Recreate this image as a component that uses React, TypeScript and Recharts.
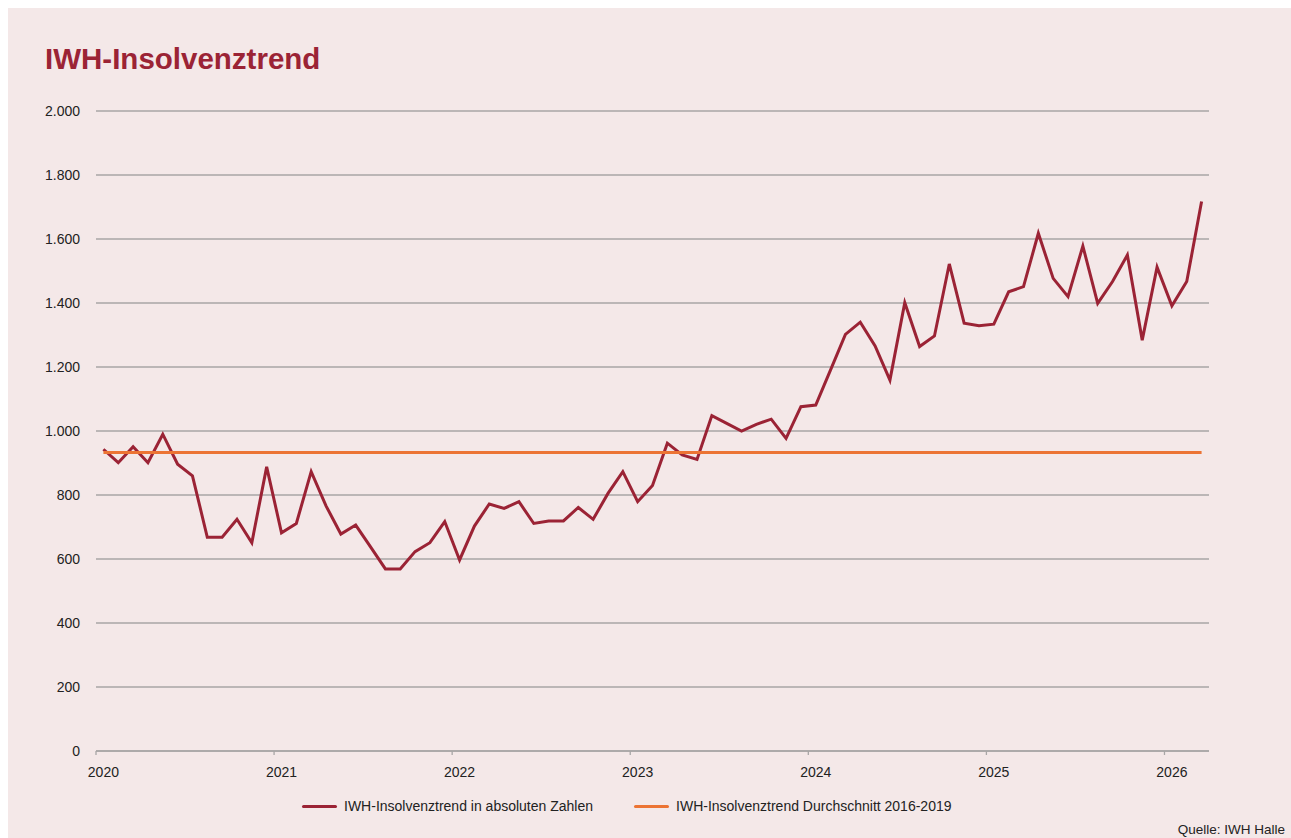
import { LineChart, Line, XAxis, YAxis, CartesianGrid, Legend } from 'recharts';

// monthly values Jan 2020 .. Mar 2026
const insolvenzen = [
  943, 901, 951, 901, 990, 896, 860, 668, 668, 724, 651, 888,
  682, 711, 873, 766, 678, 706, 638, 569, 569, 623, 651, 717,
  597, 703, 772, 758, 779, 711, 719, 719, 761, 724, 805, 873,
  779, 830, 962, 925, 911, 1048, 1024, 1000, 1021, 1037, 977, 1076,
  1081, 1191, 1302, 1340, 1266, 1159, 1401, 1264, 1297, 1522, 1337, 1329,
  1334, 1435, 1451, 1618, 1477, 1420, 1578, 1399, 1467, 1550, 1284, 1512,
  1391, 1467, 1717,
];
const durchschnitt = 933;

const years = ['2020', '2021', '2022', '2023', '2024', '2025', '2026'];
const yTicks = [0, 200, 400, 600, 800, 1000, 1200, 1400, 1600, 1800, 2000];
const seriesNames = ['IWH-Insolvenztrend in absoluten Zahlen', 'IWH-Insolvenztrend Durchschnitt 2016-2019'];

const data = insolvenzen.map((v, i) => ({ x: i + 0.5, abs: v, avg: durchschnitt }));

const FONT = '"Liberation Sans", Arial, sans-serif';
const BG = '#f4e8e8';
const RED = '#9b2335';
const ORANGE = '#ec7434';
const GRID = '#a8a6a6';

const W = 1283;
const H = 830;
const HALF_MONTH = 1113 / 75 / 2;

const fmt = (v: number) => String(v).replace(/\B(?=(\d{3})+(?!\d))/g, '.');

const YearTick = (props: any) => {
  const { x, y, payload } = props;
  return (
    <text x={x + HALF_MONTH} y={y} dy="0.71em" textAnchor="middle" fill="#222" fontSize={14} fontFamily={FONT}>
      {years[Math.round(payload.value / 12)]}
    </text>
  );
};

const LegendBox = (props: any) => {
  const items = [...(props.payload || [])].sort(
    (a: any, b: any) => seriesNames.indexOf(a.value) - seriesNames.indexOf(b.value)
  );
  return (
    <div style={{ display: 'flex', alignItems: 'center', paddingLeft: 294, fontSize: 14, fontFamily: FONT, color: '#222', height: 16 }}>
      {items.map((it: any, i: number) => (
        <div key={i} style={{ display: 'flex', alignItems: 'center', marginRight: 41 }}>
          <div style={{ width: 35, height: 3, background: it.color, borderRadius: 2, marginRight: 7 }} />
          <span>{it.value}</span>
        </div>
      ))}
    </div>
  );
};

export default function App() {
  return (
    <>
      <style>{'html,body{margin:0;overflow:hidden;}'}</style>
      <div style={{ position: 'absolute', left: 8, top: 8, width: W, height: H, background: BG, fontFamily: FONT }}>
        <div style={{ position: 'absolute', left: 37, top: 36, fontSize: 29.5, lineHeight: '29px', fontWeight: 700, color: RED }}>
          IWH-Insolvenztrend
        </div>
        <LineChart width={W} height={H} data={data} margin={{ top: 103, right: 82, left: 0, bottom: 57 }}>
          <CartesianGrid vertical={false} stroke={GRID} strokeWidth={1.3} />
          <XAxis
            type="number"
            dataKey="x"
            domain={[0, 75]}
            ticks={[0, 12, 24, 36, 48, 60, 72]}
            axisLine={{ stroke: GRID, strokeWidth: 1.3 }}
            tickLine={{ stroke: GRID, strokeWidth: 1.3 }}
            tickSize={4}
            tickMargin={12}
            height={30}
            tick={<YearTick />}
          />
          <YAxis
            domain={[0, 2000]}
            ticks={yTicks}
            width={88}
            axisLine={false}
            tickLine={false}
            tickSize={0}
            tickMargin={16}
            tickFormatter={fmt}
            tick={{ fill: '#222', fontSize: 14, fontFamily: FONT }}
          />
          <Legend
            layout="horizontal"
            verticalAlign="middle"
            align="center"
            wrapperStyle={{ top: 790, left: 0, width: W }}
            content={<LegendBox />}
          />
          <Line
            type="linear"
            dataKey="abs"
            name={seriesNames[0]}
            stroke={RED}
            strokeWidth={3}
            dot={false}
            isAnimationActive={false}
          />
          <Line
            type="linear"
            dataKey="avg"
            name={seriesNames[1]}
            stroke={ORANGE}
            strokeWidth={3}
            dot={false}
            isAnimationActive={false}
          />
        </LineChart>
        <div style={{ position: 'absolute', right: 6, bottom: 0, fontSize: 13.5, color: '#222', lineHeight: '16px' }}>
          Quelle: IWH Halle
        </div>
      </div>
    </>
  );
}
